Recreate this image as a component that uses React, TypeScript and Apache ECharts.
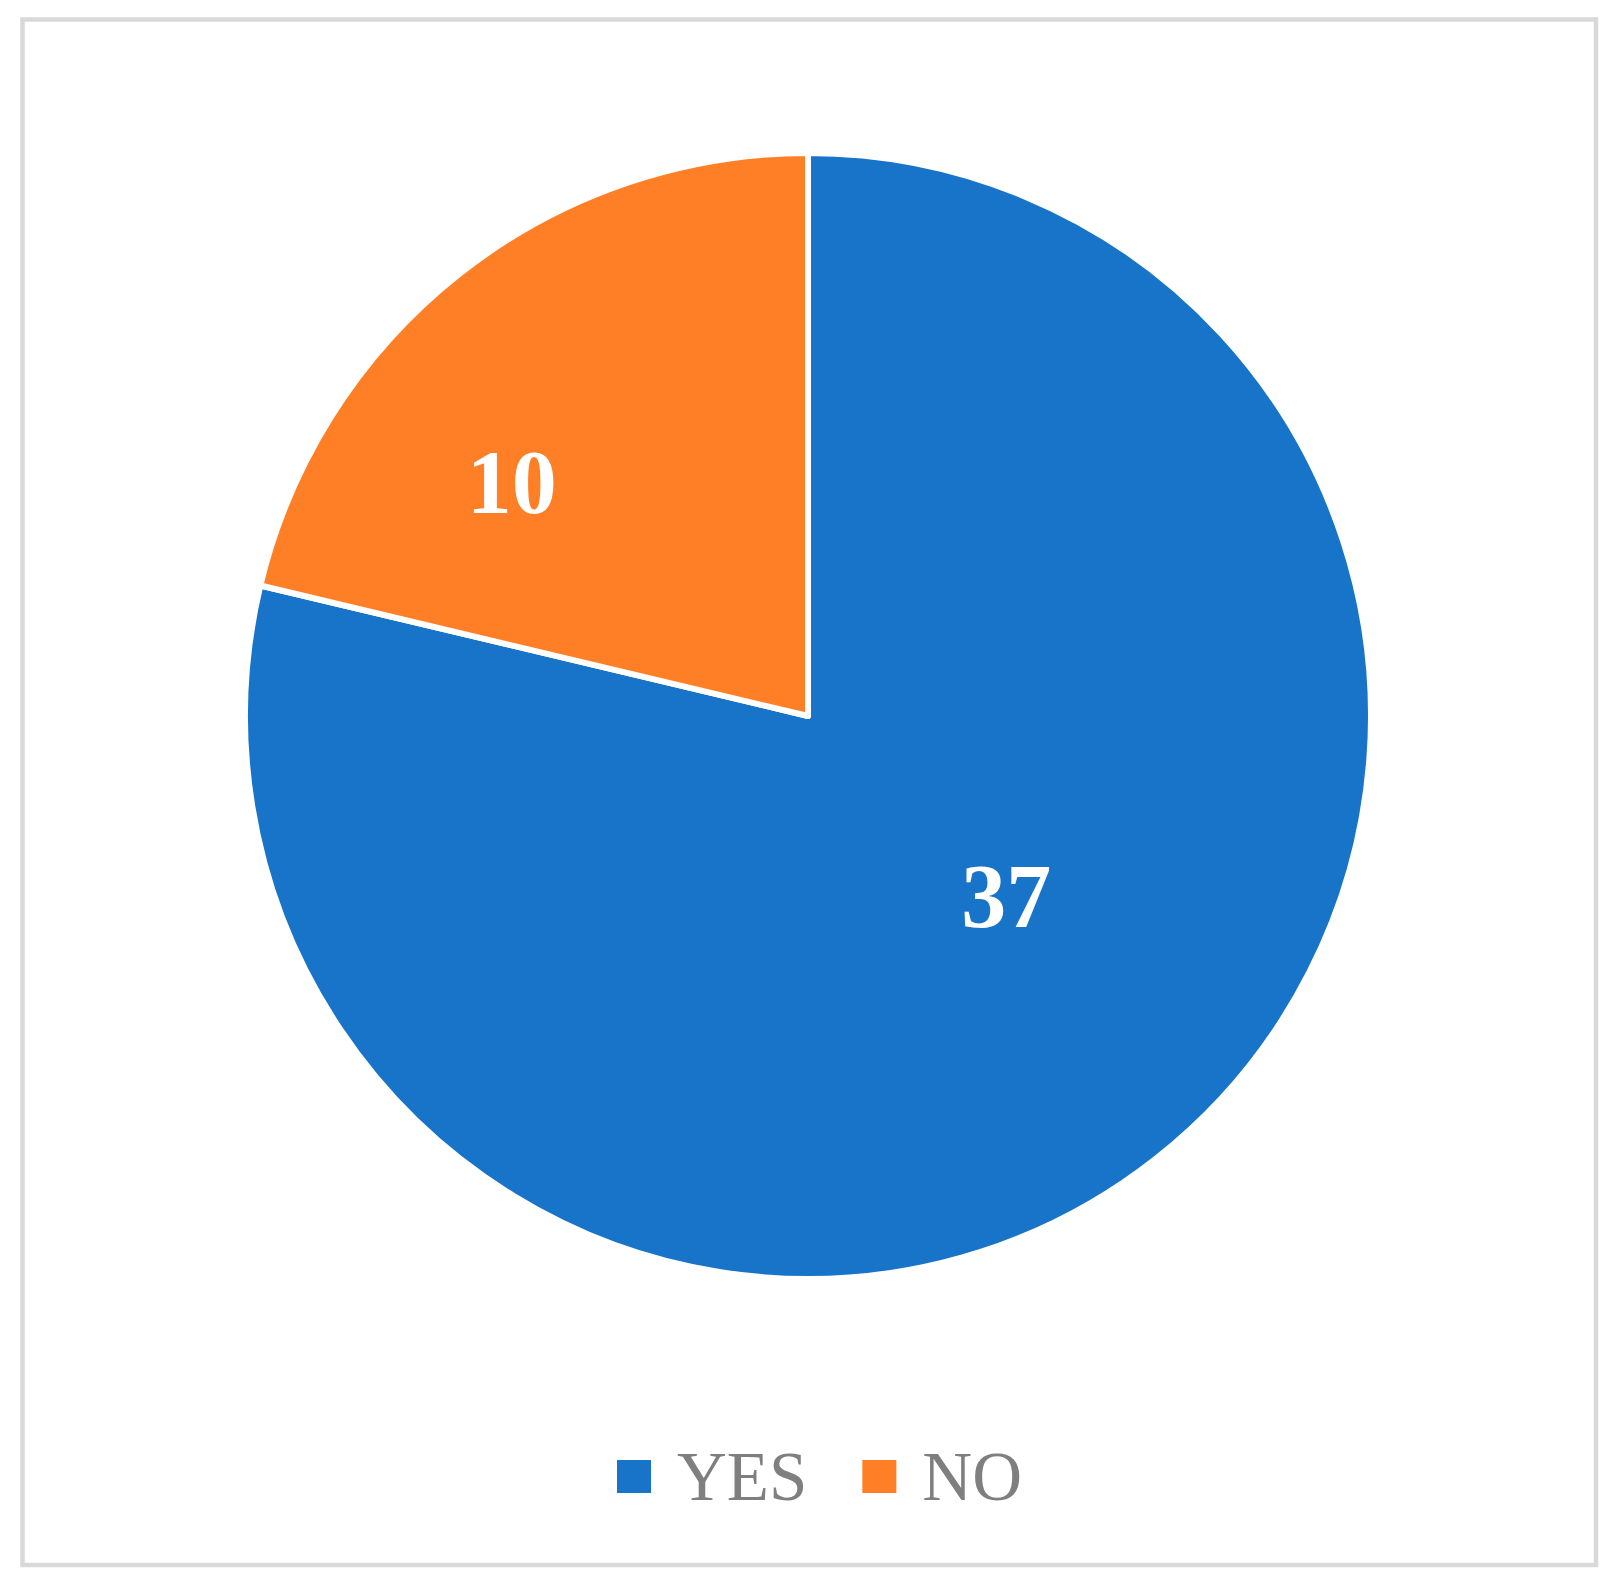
import React, { useEffect, useRef } from "react";
import * as echarts from "echarts";

const categories = ["YES", "NO"];
const values = [37, 10];
const colors = ["#1874C9", "#FF7F27"];
// label nudges (px) relative to default inside position
const labelNudge = [
  [22, -43],
  [-120, -10],
];

export default function App() {
  const ref = useRef<HTMLDivElement>(null);
  useEffect(() => {
    if (!ref.current) return;
    const chart = echarts.init(ref.current, undefined, { renderer: "svg" });
    chart.setOption({
      animation: false,
      backgroundColor: "#ffffff",
      graphic: [
        {
          type: "rect",
          shape: { x: 14.5, y: 11.5, width: 1573.5, height: 1545.5 },
          style: { fill: "none", stroke: "#d9d9d9", lineWidth: 4.5 },
          z: -1,
        },
      ],
      legend: {
        data: categories,
        left: 602,
        top: 1429,
        icon: "rect",
        itemWidth: 36,
        itemHeight: 35,
        itemGap: 53,
        textStyle: {
          fontFamily: "'Liberation Serif', 'Times New Roman', serif",
          fontSize: 69,
          color: "#7f7f7f",
          padding: [0, 0, 0, 20],
        },
      },
      series: [
        {
          type: "pie",
          center: [800, 708],
          radius: [0, 563],
          startAngle: 90,
          clockwise: true,
          data: categories.map((c, i) => ({
            name: c,
            value: values[i],
            itemStyle: { color: colors[i] },
          })),
          itemStyle: { borderColor: "#ffffff", borderWidth: 6 },
          label: {
            show: true,
            position: "inside",
            formatter: "{c}",
            color: "#ffffff",
            fontFamily: "'Liberation Serif', 'Times New Roman', serif",
            fontWeight: "bold",
            fontSize: 90,
          },
          labelLine: { show: false },
          labelLayout: (params: any) => ({
            dx: labelNudge[params.dataIndex][0],
            dy: labelNudge[params.dataIndex][1],
          }),
          emphasis: { disabled: true },
        },
      ],
    });
    return () => chart.dispose();
  }, []);
  return <div ref={ref} style={{ width: 1601, height: 1571 }} />;
}
